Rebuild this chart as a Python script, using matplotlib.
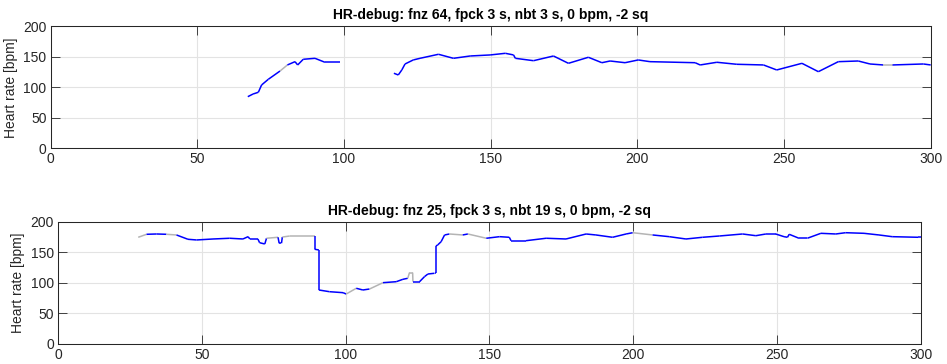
import numpy as np
import matplotlib
matplotlib.use("Agg")
import matplotlib.pyplot as plt

# top panel: time [s], heart rate [bpm], ok flag (1 = blue, 0 = grey) per point
t_top = [67.2, 69.0, 70.8, 71.9, 74.2, 78.2, 80.7, 83.3, 84.2, 86.1, 90.1, 93.5, 98.6,
         np.nan,
         117.0, 118.5, 119.7, 120.8, 123.6, 125.9, 132.2, 137.3, 143.0, 149.8, 155.0,
         157.8, 158.4, 164.6, 171.4, 176.5, 183.3, 187.9, 190.7, 195.8, 200.3, 204.3,
         219.7, 221.4, 227.1, 233.9, 243.0, 247.5, 256.1, 261.7, 268.5, 275.3, 279.3,
         283.8, 287.0, 297.5, 300.0]
hr_top = [84.6, 89.0, 91.8, 103.8, 113.1, 126.7, 136.6, 142.0, 136.6, 145.9, 147.5, 141.0, 141.0,
          np.nan,
          123.0, 120.2, 128.4, 138.2, 144.8, 147.5, 154.1, 147.5, 151.3, 153.0, 155.7,
          153.0, 147.5, 143.6, 151.3, 139.3, 149.2, 140.3, 143.1, 140.3, 144.8, 142.0,
          140.3, 136.6, 141.0, 137.7, 136.6, 128.4, 139.3, 125.6, 142.0, 143.1, 138.2,
          136.6, 136.6, 138.2, 136.6]
ok_top = [1, 1, 1, 1, 1, 0, 1, 1, 1, 1, 1, 1, 1,
          1,
          1, 1, 1, 1, 1, 1, 1, 1, 1, 1, 1,
          1, 1, 1, 1, 1, 1, 1, 1, 1, 1, 1,
          1, 1, 1, 1, 1, 1, 1, 1, 1, 1, 1,
          0, 1, 1, 1]

# bottom panel
t_bot = [27.9, 30.8, 34.3, 37.7, 41.2, 45.2, 48.2, 53.9, 59.7, 64.3, 66.1, 66.7, 69.5,
         70.1, 71.9, 72.5, 76.5, 76.9, 77.7, 78.0, 80.6, 89.2, 89.2, 90.7, 90.7,
         94.4, 99.1, 100.2, 103.7, 106.0, 108.3, 113.0, 117.6, 119.9, 121.6, 122.2,
         123.3, 123.4, 125.7, 127.4, 128.6, 130.9, 131.4, 131.4, 132.0, 133.2, 134.4,
         136.1, 140.7, 142.5, 148.9, 153.5, 156.9, 157.5, 162.7, 169.7, 176.6, 183.6,
         187.0, 192.8, 197.5, 199.8, 206.7, 212.5, 218.3, 224.1, 229.9, 238.0, 242.6,
         246.1, 249.5, 252.4, 253.6, 254.2, 257.6, 260.5, 265.2, 270.4, 273.8, 280.2,
         285.4, 290.0, 299.0, 300.0]
hr_bot = [174.6, 179.5, 180.0, 179.5, 178.4, 171.3, 170.2, 171.8, 173.0, 171.8, 175.6, 171.8, 171.8,
          165.7, 163.6, 173.0, 174.6, 164.8, 164.8, 175.0, 176.7, 176.7, 155.0, 153.8, 88.2,
          85.4, 83.8, 81.6, 91.0, 88.2, 89.8, 100.2, 101.8, 105.7, 107.4, 116.6,
          116.6, 101.8, 101.8, 110.0, 114.4, 115.6, 115.6, 160.3, 162.0, 167.4, 178.4,
          180.0, 178.4, 180.0, 173.0, 175.6, 174.6, 169.0, 169.0, 173.0, 171.8, 180.0,
          178.4, 174.6, 180.0, 182.1, 178.4, 175.6, 171.8, 174.6, 176.7, 180.0, 177.2,
          180.0, 180.0, 175.6, 174.6, 179.5, 173.0, 173.0, 181.1, 180.0, 182.1, 181.1,
          178.4, 175.6, 174.6, 174.6]
ok_bot = [0, 1, 1, 0, 1, 1, 1, 1, 1, 1, 1, 1, 1,
          1, 1, 0, 1, 1, 1, 0, 0, 1, 1, 1, 1,
          1, 1, 0, 1, 1, 0, 1, 1, 1, 0, 0,
          0, 1, 1, 1, 1, 1, 1, 1, 1, 1, 1,
          0, 1, 0, 1, 1, 1, 1, 1, 1, 1, 1,
          1, 1, 1, 0, 1, 1, 1, 1, 1, 1, 1,
          1, 1, 1, 1, 1, 1, 1, 1, 1, 1, 1,
          1, 1, 1, 1]

titles = ["HR-debug: fnz 64, fpck 3 s, nbt 3 s, 0 bpm, -2 sq",
          "HR-debug: fnz 25, fpck 3 s, nbt 19 s, 0 bpm, -2 sq"]
xticks = [0, 50, 100, 150, 200, 250, 300]
yticks = [0, 50, 100, 150, 200]

plt.rcParams['font.family'] = ['Liberation Sans', 'DejaVu Sans']

BLUE = "#0000ff"
GREY = "#b4b4b4"
AX = "#262626"


def draw_hr(ax, t, hr, ok):
    # each segment i -> i+1 gets the colour of point i
    for i in range(len(t) - 1):
        c = BLUE if ok[i] else GREY
        ax.plot(t[i:i + 2], hr[i:i + 2], color=c, lw=1.1, solid_capstyle='butt')


def style(ax, title):
    ax.set_xlim(0, 300)
    ax.set_ylim(0, 200)
    ax.set_xticks(xticks)
    ax.set_yticks(yticks)
    ax.grid(True, color="#e3e3e3", lw=0.8)
    ax.set_axisbelow(True)
    ax.tick_params(direction='in', length=6.5, width=0.6, color=AX, labelcolor=AX,
                   labelsize=10, top=True, right=True, pad=3)
    for s in ax.spines.values():
        s.set_color(AX)
        s.set_linewidth(0.75)
    ax.set_ylabel("Heart rate [bpm]", fontsize=10, color=AX, labelpad=4)
    ax.set_title(title, fontsize=10, fontweight='bold', color='black', pad=5)


fig = plt.figure(figsize=(9.47, 3.64), dpi=100)
ax1 = fig.add_axes([0.0535, 0.5926, 0.9293, 0.3352])
ax2 = fig.add_axes([0.0612, 0.0555, 0.9113, 0.3352])

draw_hr(ax1, t_top, hr_top, ok_top)
draw_hr(ax2, t_bot, hr_bot, ok_bot)
style(ax1, titles[0])
style(ax2, titles[1])

fig.savefig("out.png", dpi=100)
